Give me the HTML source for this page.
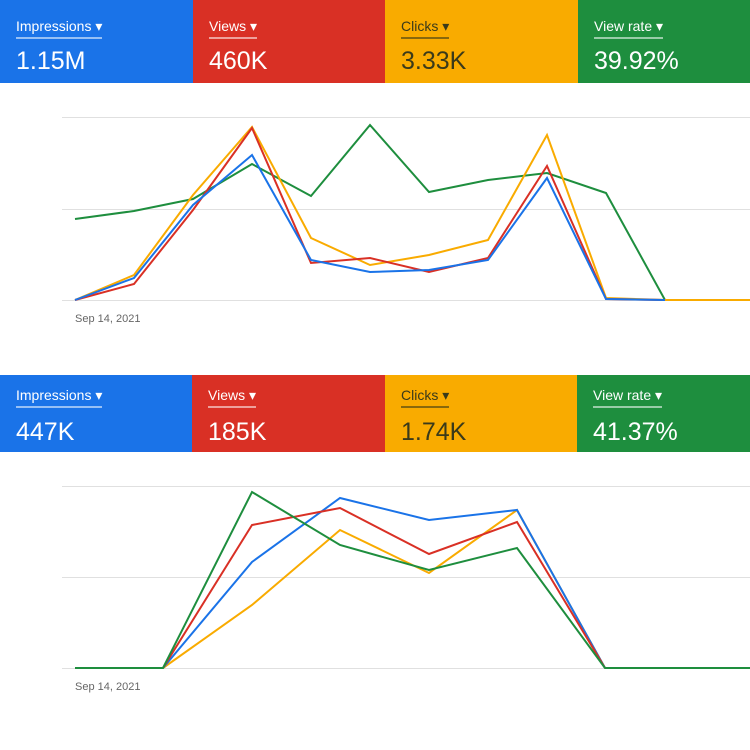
<!DOCTYPE html>
<html><head><meta charset="utf-8"><style>
body{margin:0;width:750px;height:750px;background:#fff;position:relative;overflow:hidden;font-family:"Liberation Sans",sans-serif}
.c{position:absolute;color:#fff}
.c .l{position:absolute;left:16px;font-size:14px;border-bottom:2px solid rgba(255,255,255,.55);padding-bottom:2px}
.c .v{position:absolute;left:16px;font-size:25px}
.y{color:#3a3a1a}
.y .l{border-bottom-color:rgba(60,60,20,.6)}
.d{position:absolute;font-size:11px;color:#666}
</style></head><body>
<div class="c" style="left:0;top:0;width:193px;height:83px;background:#1a73e8"><div class="l" style="top:18px">Impressions ▾</div><div class="v" style="top:47px">1.15M</div></div>
<div class="c" style="left:193px;top:0;width:192px;height:83px;background:#d93025"><div class="l" style="top:18px">Views ▾</div><div class="v" style="top:47px">460K</div></div>
<div class="c y" style="left:385px;top:0;width:193px;height:83px;background:#f9ab00"><div class="l" style="top:18px">Clicks ▾</div><div class="v" style="top:47px">3.33K</div></div>
<div class="c" style="left:578px;top:0;width:172px;height:83px;background:#1e8e3e"><div class="l" style="top:18px">View rate ▾</div><div class="v" style="top:47px">39.92%</div></div>

<div class="c" style="left:0;top:375px;width:192px;height:77px;background:#1a73e8"><div class="l" style="top:12px">Impressions ▾</div><div class="v" style="top:43px">447K</div></div>
<div class="c" style="left:192px;top:375px;width:193px;height:77px;background:#d93025"><div class="l" style="top:12px">Views ▾</div><div class="v" style="top:43px">185K</div></div>
<div class="c y" style="left:385px;top:375px;width:192px;height:77px;background:#f9ab00"><div class="l" style="top:12px">Clicks ▾</div><div class="v" style="top:43px">1.74K</div></div>
<div class="c" style="left:577px;top:375px;width:173px;height:77px;background:#1e8e3e"><div class="l" style="top:12px">View rate ▾</div><div class="v" style="top:43px">41.37%</div></div>

<svg width="750" height="750" style="position:absolute;left:0;top:0" fill="none" stroke-width="2">
<g stroke="#e0e0e0" stroke-width="1">
<line x1="62" y1="117.5" x2="750" y2="117.5"/><line x1="62" y1="209.5" x2="750" y2="209.5"/><line x1="62" y1="300.5" x2="750" y2="300.5"/>
<line x1="62" y1="486.5" x2="750" y2="486.5"/><line x1="62" y1="577.5" x2="750" y2="577.5"/><line x1="62" y1="668.5" x2="750" y2="668.5"/>
</g>
<polyline stroke="#1e8e3e" points="75,219 134,211 193,199 252,164 311,196 370,125 429,192 488,180 547,173 606,193 665,300 750,300"/>
<polyline stroke="#f9ab00" points="75,300 134,275 193,195 252,127 311,238 370,265 429,255 488,240 547,135 606,298 665,300 750,300"/>
<polyline stroke="#d93025" points="75,300 134,284 193,210 252,128 311,263 370,258 429,272 488,258 547,166 606,299 665,300"/>
<polyline stroke="#1a73e8" points="75,300 134,278 193,205 252,155 311,260 370,272 429,270 488,260 547,178 606,299 665,300"/>

<polyline stroke="#f9ab00" points="163,668 252,605 340,530 429,573 517,510 605,668"/>
<polyline stroke="#1a73e8" points="163,668 252,562 340,498 429,520 517,510 605,668"/>
<polyline stroke="#d93025" points="163,668 252,525 340,508 429,554 517,522 605,668"/>
<polyline stroke="#1e8e3e" points="75,668 163,668 252,492 340,545 429,570 517,548 605,668 750,668"/>
</svg>
<div class="d" style="left:75px;top:313px">Sep 14, 2021</div>
<div class="d" style="left:75px;top:681px">Sep 14, 2021</div>
</body></html>
